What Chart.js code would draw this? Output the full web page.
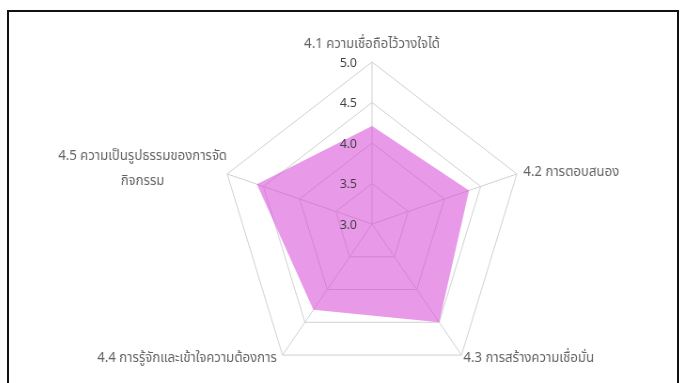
<!DOCTYPE html>
<html>
<head>
<meta charset="utf-8">
<script src="https://cdn.jsdelivr.net/npm/chart.js@4"></script>
<style>
  html, body { margin: 0; padding: 0; background: #fff; }
  body { width: 683px; height: 383px; position: relative; overflow: hidden; }
  #frame {
    position: absolute; left: 7px; top: 10px; width: 672px; height: 380px;
    border: 2px solid #111; box-sizing: border-box;
  }
  /* the plot is a little narrower than it is tall */
  #wrap {
    position: absolute; left: 0; top: 0; width: 744px; height: 390px;
    transform: scaleX(0.94); transform-origin: 372px 0;
  }
</style>
</head>
<body>
<div id="frame"></div>
<div id="wrap"><canvas id="radar"></canvas></div>
<script>
const categories = [
    '4.1 ความเชื่อถือไว้วางใจได้',
    '4.2 การตอบสนอง',
    '4.3 การสร้างความเชื่อมั่น',
    '4.4 การรู้จักและเข้าใจความต้องการ',
    ['4.5 ความเป็นรูปธรรมของการจัด', 'กิจกรรม']
];
const scores = [4.21, 4.34, 4.50, 4.31, 4.59];
const tickValues = [3.0, 3.5, 4.0, 4.5, 5.0];

const thaiFont = "Tahoma, 'Leelawadee UI', 'Noto Sans Thai', 'DejaVu Sans', sans-serif";

// where each category name sits relative to its spoke end
const labelPlace = [
    { align: 'center', dx: 0, dy: -17 },
    { align: 'left', dx: 7, dy: -1 },
    { align: 'left', dx: 2, dy: 4 },
    { align: 'right', dx: -6, dy: 4 },
    { align: 'center', dx: -90, dy: -4 }
];

const radarText = {
    id: 'radarText',
    afterDatasetsDraw(chart) {
        const scale = chart.scales.r;
        const ctx = chart.ctx;
        ctx.save();
        ctx.textBaseline = 'middle';

        // tick numbers just left of the vertical spoke
        ctx.font = '13px ' + thaiFont;
        ctx.fillStyle = '#404040';
        ctx.textAlign = 'right';
        tickValues.forEach(v => {
            const p = scale.getPointPositionForValue(0, v);
            ctx.fillText(v.toFixed(1), p.x - 16, p.y + 2);
        });

        // category names
        ctx.font = '14px ' + thaiFont;
        ctx.fillStyle = '#636363';
        categories.forEach((label, i) => {
            const p = scale.getPointPosition(i, scale.drawingArea);
            const place = labelPlace[i];
            const lines = Array.isArray(label) ? label : [label];
            const lineH = 25;
            const top = p.y + place.dy - (lines.length - 1) * lineH / 2;
            ctx.textAlign = place.align;
            lines.forEach((line, j) => ctx.fillText(line, p.x + place.dx, top + j * lineH));
        });
        ctx.restore();
    }
};

new Chart(document.getElementById('radar'), {
    type: 'radar',
    data: {
        labels: categories,
        datasets: [{
            data: scores,
            backgroundColor: 'rgba(214, 70, 214, 0.55)',
            borderWidth: 0,
            pointRadius: 0,
            fill: true
        }]
    },
    options: {
        responsive: true,
        maintainAspectRatio: false,
        animation: false,
        layout: { padding: { top: 62, bottom: 4, left: 0, right: 0 } },
        plugins: {
            legend: { display: false },
            tooltip: { enabled: false }
        },
        scales: {
            r: {
                min: 3,
                max: 5,
                ticks: { stepSize: 0.5, display: false },
                grid: { color: '#d0d0d0', lineWidth: 1 },
                angleLines: { color: '#d0d0d0', lineWidth: 1 },
                pointLabels: { display: false }
            }
        }
    },
    plugins: [radarText]
});
</script>
</body>
</html>
